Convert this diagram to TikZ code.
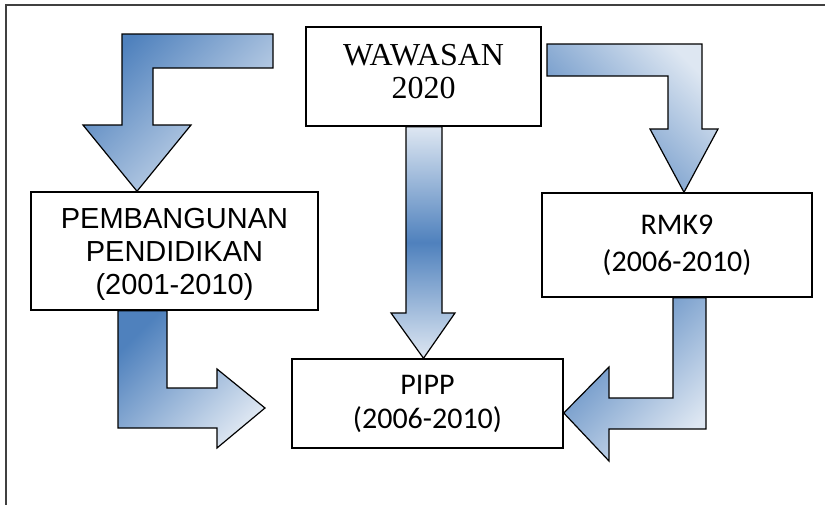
\documentclass[tikz,border=0pt]{standalone}
\usepackage{fontspec}
\setmainfont{Liberation Sans}
\newfontfamily\wawasanfont{Liberation Serif}
\newfontfamily\rmkfont{Carlito}
\usetikzlibrary{calc}

\definecolor{arrowdark}{RGB}{79,129,189}
\definecolor{arrowlight}{RGB}{222,231,242}

\begin{document}
\begin{tikzpicture}[x=1pt, y=-1pt, semithick]
        \tikzstyle{box}=[draw=black, line width=1.5pt, fill=white, inner sep=0pt, align=center]
        \tikzstyle{blockarrow}=[draw=black, line width=1.2pt, line join=miter]
        \tikzstyle{shadedown}=[top color=arrowdark, bottom color=arrowlight, shading angle=45]
        \tikzstyle{shadeup}=[top color=arrowlight, bottom color=arrowdark, shading angle=-45]
        \useasboundingbox (0,0) rectangle (825,504);
        % frame, cut by the page edge
        \begin{scope}
          \clip (0,0) rectangle (825,504);
          \draw[line width=2pt, black!75] (6,5) rectangle (840,520);
        \end{scope}
        % boxes
        \node[box, minimum width=287pt, minimum height=118pt, text depth=-6pt,
              font=\fontsize{29}{33}\selectfont]                      (pemb)    at (174.5,251)
              {PEMBANGUNAN\\PENDIDIKAN\\(2001-2010)};
        \node[box, minimum width=235pt, minimum height=99pt, text depth=10pt,
              font=\wawasanfont\fontsize{32}{33}\selectfont]         (wawasan) at (423.5,76.5)
              {WAWASAN\\2020};
        \node[box, minimum width=270pt, minimum height=104pt,
              font=\rmkfont\fontsize{30}{37}\selectfont]             (rmk)     at (677,245)
              {RMK9\\(2006-2010)};
        \node[box, minimum width=271pt, minimum height=89pt,
              font=\rmkfont\fontsize{30}{34}\selectfont]             (pipp)    at (427.5,403.5)
              {PIPP\\(2006-2010)};
        % block arrows
        \draw[blockarrow, shadedown] (273,34) -- (122,34) -- (122,125) -- (83,125)
              -- (137,0 |- pemb.north) -- (191,125) -- (153,125) -- (153,68) -- (273,68) -- cycle;
        \draw[blockarrow, top color=arrowlight, bottom color=arrowlight, middle color=arrowdark]
              (406,0 |- wawasan.south) -- (406,313) -- (391,313) -- (wawasan.south |- pipp.north)
              -- (455,313) -- (442,313) -- (442,0 |- wawasan.south) -- cycle;
        \draw[blockarrow, shadeup] (547,44) -- (702,44) -- (702,129) -- (718,129)
              -- (684,0 |- rmk.north) -- (650,129) -- (668,129) -- (668,76) -- (547,76) -- cycle;
        \draw[blockarrow, shadedown] (118,0 |- pemb.south) -- (118,428) -- (217,428) -- (217,448)
              -- (265,408) -- (217,369) -- (217,388) -- (167,388) -- (167,0 |- pemb.south) -- cycle;
        \draw[blockarrow, shadedown] (706,0 |- rmk.south) -- (706,429) -- (609,429) -- (609,461)
              -- (pipp.east |- 0,413) -- (609,367) -- (609,398) -- (673,398) -- (673,0 |- rmk.south) -- cycle;
\end{tikzpicture}
\end{document}
